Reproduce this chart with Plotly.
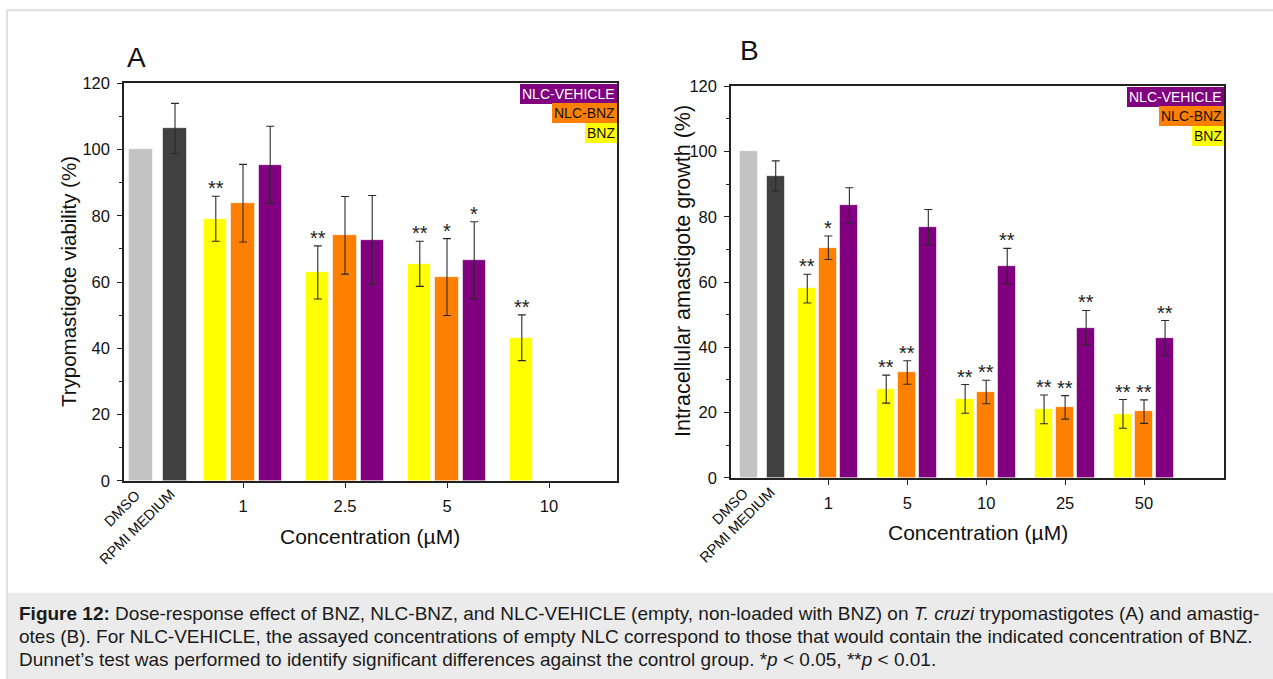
import plotly.graph_objects as go

W, H = 1273, 681
PAGE_TOP = 8            # page offset above the figure
V_SCALE = 679 / 697     # vertical scale of the rendered page
FONT = "Arial, 'Liberation Sans', Helvetica, sans-serif"

# ---------------- data ----------------
series_names = ["BNZ", "NLC-BNZ", "NLC-VEHICLE"]
control_names = ["DMSO", "RPMI MEDIUM"]

# Panel A: trypomastigote viability (%)
conc_a = ["1", "2.5", "5", "10"]
dmso_a = 100.0
rpmi_a, rpmi_a_err = 106.3, 7.6
bnz_a = [79.1, 62.9, 65.5, 43.2]
bnz_a_err = [6.8, 8.0, 6.8, 6.9]
nlcbnz_a = [83.8, 74.1, 61.5, None]
nlcbnz_a_err = [11.7, 11.7, 11.6, None]
veh_a = [95.4, 72.7, 66.6, None]
veh_a_err = [11.6, 13.4, 11.6, None]
sig_bnz_a = ["**", "**", "**", "**"]
sig_nlcbnz_a = ["", "", "*", ""]
sig_veh_a = ["", "", "*", ""]

# Panel B: intracellular amastigote growth (%)
conc_b = ["1", "5", "10", "25", "50"]
dmso_b = 100.0
rpmi_b, rpmi_b_err = 92.5, 4.6
bnz_b = [58.0, 27.2, 24.2, 21.0, 19.6]
bnz_b_err = [4.4, 4.3, 4.4, 4.4, 4.4]
nlcbnz_b = [70.5, 32.3, 26.3, 21.6, 20.3]
nlcbnz_b_err = [3.6, 3.6, 3.6, 3.6, 3.6]
veh_b = [83.5, 76.8, 64.9, 46.0, 42.8]
veh_b_err = [5.4, 5.4, 5.4, 5.3, 5.4]
sig_bnz_b = ["**", "**", "**", "**", "**"]
sig_nlcbnz_b = ["*", "**", "**", "**", "**"]
sig_veh_b = ["", "", "**", "**", "**"]

# ---------------- styling ----------------
C_DMSO = "#c3c3c3"
C_RPMI = "#404040"
C_SERIES = ["#ffff00", "#ff8000", "#800080"]
EDGE = "rgba(255,255,255,0.55)"
ERR = "#2a2a2a"
BAR_W = 0.68
OFFSETS = [-0.8, 0.0, 0.8]


def px(x):
    return x / W


def py(y):
    return 1 - (y / V_SCALE - PAGE_TOP) / H


fig = go.Figure()
annotations = []


def add_panel(xa, ya, conc, dmso, rpmi, rpmi_err, series, errs, sigs):
    xref = "x" if xa == 1 else f"x{xa}"
    yref = "y" if ya == 1 else f"y{ya}"
    # controls
    fig.add_trace(go.Bar(x=[0], y=[dmso], width=BAR_W, marker=dict(color=C_DMSO, line=dict(color=EDGE, width=1)),
                         xaxis=xref, yaxis=yref, showlegend=False, name=control_names[0]))
    fig.add_trace(go.Bar(x=[1], y=[rpmi], width=BAR_W, marker=dict(color=C_RPMI, line=dict(color=EDGE, width=1)),
                         error_y=dict(type="data", array=[rpmi_err], color=ERR, thickness=1.1, width=4),
                         xaxis=xref, yaxis=yref, showlegend=False, name=control_names[1]))
    centers = [3 + 3 * i for i in range(len(conc))]
    for k, (vals, err, sig) in enumerate(zip(series, errs, sigs)):
        xs = [c + OFFSETS[k] for c in centers]
        fig.add_trace(go.Bar(x=xs, y=vals, width=BAR_W,
                             marker=dict(color=C_SERIES[k], line=dict(color=EDGE, width=1)),
                             error_y=dict(type="data", array=err, color=ERR, thickness=1.1, width=4),
                             xaxis=xref, yaxis=yref, showlegend=False, name=series_names[k]))
        for x, v, e, s in zip(xs, vals, err, sig):
            if s and v is not None:
                annotations.append(dict(x=x, y=v + e, xref=xref, yref=yref, text=s, showarrow=False,
                                        yanchor="bottom", xanchor="center", yshift=-5,
                                        font=dict(family=FONT, size=20, color="#222")))
    return centers


cent_a = add_panel(1, 1, conc_a, dmso_a, rpmi_a, rpmi_a_err,
                   [bnz_a, nlcbnz_a, veh_a], [bnz_a_err, nlcbnz_a_err, veh_a_err],
                   [sig_bnz_a, sig_nlcbnz_a, sig_veh_a])
cent_b = add_panel(2, 2, conc_b, dmso_b, rpmi_b, rpmi_b_err,
                   [bnz_b, nlcbnz_b, veh_b], [bnz_b_err, nlcbnz_b_err, veh_b_err],
                   [sig_bnz_b, sig_nlcbnz_b, sig_veh_b])

axis_common = dict(showline=True, linecolor="#222", linewidth=1.5, mirror=True, showgrid=False,
                   zeroline=False, ticks="outside", tickcolor="#222", tickwidth=1.2, ticklen=5,
                   tickfont=dict(family=FONT, size=16.5, color="#111"))

yaxis_common = dict(axis_common, range=[0, 120], dtick=20, tick0=0, ticklabelstandoff=4,
                    minor=dict(ticks="outside", ticklen=3, dtick=10, tick0=0, tickcolor="#222", tickwidth=1.2))

fig.update_layout(
    width=W, height=H, autosize=False,
    margin=dict(l=0, r=0, t=0, b=0),
    paper_bgcolor="white", plot_bgcolor="white",
    barmode="overlay", bargap=0,
    xaxis=dict(axis_common, domain=[px(124), px(617)], range=[-0.5, 14], tickvals=cent_a, ticktext=conc_a,
               ticklabelstandoff=5, anchor="y"),
    yaxis=dict(yaxis_common, domain=[py(480), py(82)], anchor="x"),
    xaxis2=dict(axis_common, domain=[px(731), px(1224)], range=[-0.7, 18.04], tickvals=cent_b, ticktext=conc_b,
                ticklabelstandoff=5, anchor="y2"),
    yaxis2=dict(yaxis_common, domain=[py(477), py(85)], anchor="x2"),
)

# rotated control labels under each panel
ctrl_label_pos = {"x": (141.5, 175.5, 483), "x2": (749.5, 775.8, 481)}
for xref, (d_px, r_px, top) in ctrl_label_pos.items():
    for name, cx in zip(control_names, (d_px, r_px)):
        annotations.append(dict(x=px(cx + 5), y=py(top), xref="paper", yref="paper", text=name,
                                textangle=-45, showarrow=False, xanchor="right", yanchor="top",
                                font=dict(family=FONT, size=14.5, color="#111")))

# legend boxes (top-right of each panel)
legend_boxes = {"A": (617, [82.5, 102, 121.5]), "B": (1223.5, [85.5, 105, 124.5])}
legend_style = [("NLC-VEHICLE", "#800080", "white"), ("NLC-BNZ", "#ff8000", "#111"), ("BNZ", "#ffff00", "#111")]
for key, (right, tops) in legend_boxes.items():
    for (label, bg, fg), top in zip(legend_style, tops):
        annotations.append(dict(x=px(right), y=py(top), xref="paper", yref="paper", text=label,
                                showarrow=False, xanchor="right", yanchor="top", bgcolor=bg,
                                borderpad=2, borderwidth=0,
                                font=dict(family=FONT, size=14, color=fg)))

# panel letters
for letter, (lx, ly) in {"A": (136, 56), "B": (749, 49)}.items():
    annotations.append(dict(x=px(lx), y=py(ly), xref="paper", yref="paper", text=letter, showarrow=False,
                            xanchor="center", yanchor="middle", font=dict(family=FONT, size=28, color="#111")))

# axis titles
annotations += [
    dict(x=px(68), y=py(281), xref="paper", yref="paper", text="Trypomastigote viability (%)", textangle=-90,
         showarrow=False, xanchor="center", yanchor="middle", font=dict(family=FONT, size=20.5, color="#111")),
    dict(x=px(683), y=py(270), xref="paper", yref="paper", text="Intracellular amastigote growth (%)",
         textangle=-90, showarrow=False, xanchor="center", yanchor="middle",
         font=dict(family=FONT, size=21.5, color="#111")),
    dict(x=px(370), y=py(536), xref="paper", yref="paper", text="Concentration (µM)", showarrow=False,
         xanchor="center", yanchor="middle", font=dict(family=FONT, size=21, color="#111")),
    dict(x=px(978), y=py(532), xref="paper", yref="paper", text="Concentration (µM)", showarrow=False,
         xanchor="center", yanchor="middle", font=dict(family=FONT, size=21, color="#111")),
]

# caption
caption_lines = [
    "<b>Figure 12:</b> Dose-response effect of BNZ, NLC-BNZ, and NLC-VEHICLE (empty, non-loaded with BNZ) on "
    "<i>T. cruzi</i> trypomastigotes (A) and amastig-",
    "otes (B). For NLC-VEHICLE, the assayed concentrations of empty NLC correspond to those that would contain "
    "the indicated concentration of BNZ.",
    "Dunnet’s test was performed to identify significant differences against the control group. "
    "*<i>p</i> &lt; 0.05, **<i>p</i> &lt; 0.01.",
]
for line, yc in zip(caption_lines, [613, 636, 659]):
    annotations.append(dict(x=px(17), y=py(yc), xref="paper", yref="paper", text=line, showarrow=False,
                            xanchor="left", yanchor="middle", align="left",
                            font=dict(family=FONT, size=19, color="#1a1a1a")))

shapes = [
    # figure frame (left and top edges visible)
    dict(type="rect", xref="paper", yref="paper", x0=px(7), x1=px(1290), y0=-0.1, y1=py(9),
         line=dict(color="#dedede", width=2), fillcolor="rgba(0,0,0,0)", layer="below"),
    # caption band
    dict(type="rect", xref="paper", yref="paper", x0=px(8), x1=px(1273), y0=-0.1, y1=py(592),
         line=dict(width=0), fillcolor="#ebebeb", layer="below"),
]

fig.update_layout(annotations=annotations, shapes=shapes)
fig.write_html("out.html")
